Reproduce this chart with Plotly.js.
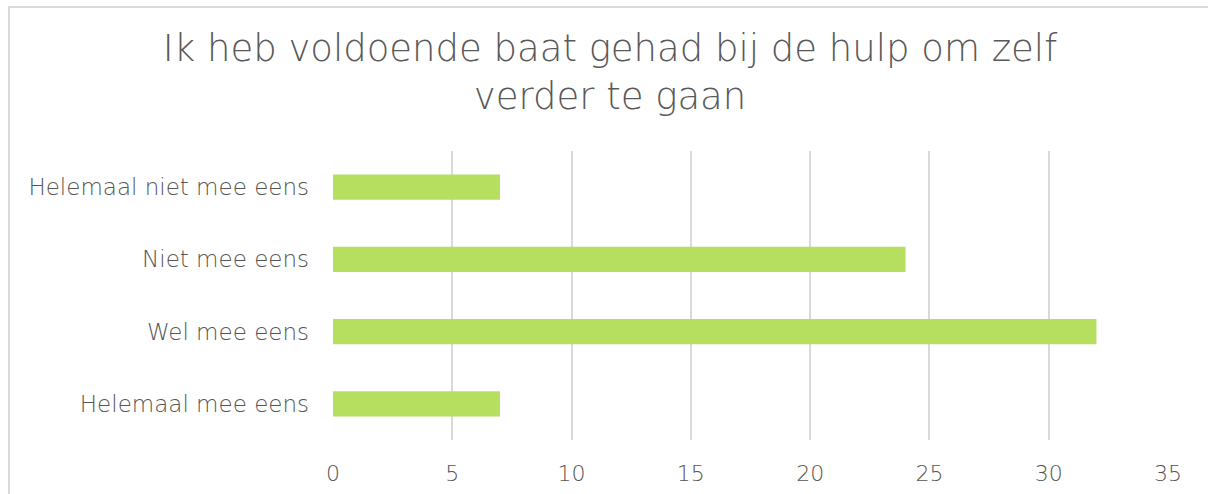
<!DOCTYPE html>
<html>
<head>
<meta charset="utf-8">
<script src="https://cdn.plot.ly/plotly-3.0.1.min.js"></script>
<style>
html,body{margin:0;padding:0;background:#fff;overflow:hidden;width:1208px;height:494px;}
#box{position:absolute;left:8px;top:6px;width:1204px;height:510px;border:2px solid #d9d9d9;box-sizing:border-box;}
#chart{position:absolute;left:0;top:0;width:1200px;height:506px;}
</style>
</head>
<body>
<div id="box"><div id="chart"></div></div>
<script>
const categories = ["Helemaal mee eens", "Wel mee eens", "Niet mee eens", "Helemaal niet mee eens"];
const values = [7, 32, 24, 7];
const tickValues = [0, 5, 10, 15, 20, 25, 30, 35];
const titleText = "Ik heb voldoende baat gehad bij de hulp om zelf<br>verder te gaan";

const fontFam = "'DejaVu Sans', sans-serif";
const trace = {
  type: 'bar',
  orientation: 'h',
  y: categories,
  x: values,
  marker: {color: '#b6df5f'},
  hoverinfo: 'x+y'
};
const layout = {
  width: 1200,
  height: 506,
  paper_bgcolor: '#ffffff',
  plot_bgcolor: '#ffffff',
  margin: {l: 323, r: 42, t: 143, b: 74},
  bargap: 0.65,
  showlegend: false,
  title: {
    text: titleText,
    x: 0.5, xanchor: 'center', xref: 'container',
    y: 0.895, yanchor: 'top', yref: 'container',
    font: {family: fontFam, size: 37, color: '#595959', weight: 200}
  },
  xaxis: {
    range: [0, 35],
    tickvals: tickValues,
    ticktext: tickValues.map(String),
    showgrid: true,
    gridcolor: '#d9d9d9',
    gridwidth: 2,
    zeroline: false,
    showline: false,
    ticks: '',
    ticklabelstandoff: 18,
    tickfont: {family: fontFam, size: 22, color: '#555555', weight: 200}
  },
  yaxis: {
    showgrid: false,
    zeroline: false,
    showline: false,
    ticks: '',
    ticklabelstandoff: 23,
    tickfont: {family: fontFam, size: 23, color: '#555555', weight: 200}
  }
};
Plotly.newPlot('chart', [trace], layout, {displayModeBar: false, staticPlot: true});
</script>
</body>
</html>
